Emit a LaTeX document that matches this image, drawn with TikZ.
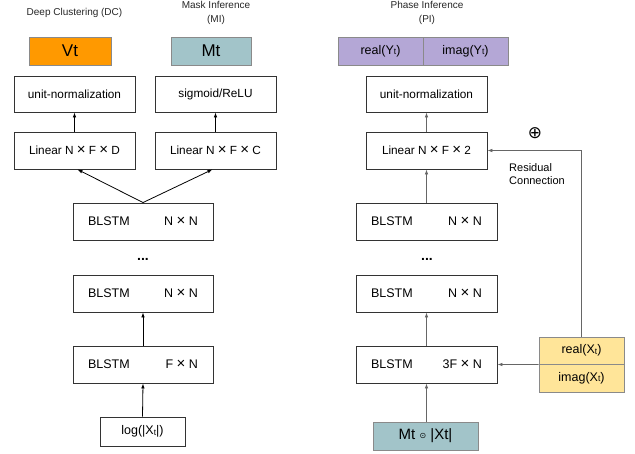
\documentclass[tikz,border=0pt]{standalone}
\usepackage{fontspec}
\setmainfont{Liberation Sans}
\newfontfamily\djv{DejaVu Sans}
\usetikzlibrary{arrows.meta}
\definecolor{dcorange}{HTML}{FF9900}
\definecolor{mteal}{HTML}{A2C4C9}
\definecolor{ppurple}{HTML}{B4A7D6}
\definecolor{pyellow}{HTML}{FFE599}
\definecolor{bord}{HTML}{333333}
\definecolor{cbord}{HTML}{8A8A8A}
\definecolor{garrow}{HTML}{666666}
\newcommand{\smt}{\raisebox{-0.6pt}{\fontsize{8.5}{9}\selectfont t}}
\newcommand{\tms}{{\fontsize{15}{14}\selectfont ×}}
\begin{document}
\begin{tikzpicture}[x=1pt,y=-1pt,
  box/.style={draw=bord, line width=0.9pt, fill=white, inner sep=0pt, font=\fontsize{11.8}{13}\selectfont},
  cbox/.style={draw=cbord, line width=0.9pt, inner sep=0pt},
  arr/.style={-{Latex[length=5pt,width=3.6pt]}, line width=0.8pt},
  garr/.style={arr, draw=garrow},
  hdr/.style={font=\fontsize{10}{13.5}\selectfont, align=center, text=black!85},
  dots/.style={font=\fontsize{14}{14}\selectfont\bfseries}]
\useasboundingbox (0,0) rectangle (635,453);

% headers
\node[hdr] (h1) at (74.5,13) {Deep Clustering (DC)};
\node[hdr] (h2) at (216,13) {Mask Inference\\(MI)};
\node[hdr] (h3) at (427,13) {Phase Inference\\(PI)};

% left column
\node[cbox, fill=dcorange, minimum width=82pt, minimum height=28pt, font=\fontsize{17}{18}\selectfont] (vt) at (70,51) {Vt};
\node[cbox, fill=mteal, minimum width=80pt, minimum height=28pt, font=\fontsize{17}{18}\selectfont] (mt) at (211,51) {Mt};
\node[box, minimum width=121pt, minimum height=36pt] (un1) at (74.5,94) {unit-normalization};
\node[box, minimum width=121pt, minimum height=36pt] (sig) at (215.5,94) {sigmoid/ReLU};
\node[box, minimum width=121pt, minimum height=37pt] (linD) at (74.5,150.5) {Linear N \tms\ F \tms\ D};
\node[box, minimum width=121pt, minimum height=37pt] (linC) at (215.5,150.5) {Linear N \tms\ F \tms\ C};
\node[box, minimum width=140pt, minimum height=37pt, font=\fontsize{12.5}{14}\selectfont] (b1) at (143,221.5) {\makebox[110pt]{BLSTM\hfill N \tms\ N}};
\node[dots] (d1) at (143,259) {...};
\node[box, minimum width=140pt, minimum height=37pt, font=\fontsize{12.5}{14}\selectfont] (b2) at (143,293.5) {\makebox[110pt]{BLSTM\hfill N \tms\ N}};
\node[box, minimum width=140pt, minimum height=37pt, font=\fontsize{12.5}{14}\selectfont] (b3) at (143,364.5) {\makebox[110pt]{BLSTM\hfill F \tms\ N}};
\node[box, minimum width=85pt, minimum height=29pt, font=\fontsize{12.5}{14}\selectfont] (lg) at (142.5,431.5) {log(|X\smt|)};

\draw[arr] (linD.north) -- (un1.south);
\draw[arr] (linC.north) -- (sig.south);
\draw[arr] (b1.north) -- ([xshift=3pt]linD.south);
\draw[arr] (b1.north) -- ([xshift=-3pt]linC.south);
\draw[arr] (b3.north) -- (b2.south);
\draw[arr] (lg.north) -- (b3.south);

% right column
\node[cbox, fill=ppurple, minimum width=85pt, minimum height=28pt, font=\fontsize{12.5}{14}\selectfont] (ry) at (380.5,51) {real(Y\smt)};
\node[cbox, fill=ppurple, minimum width=85pt, minimum height=28pt, font=\fontsize{12.5}{14}\selectfont] (iy) at (465.5,51) {imag(Y\smt)};
\node[box, minimum width=121pt, minimum height=36pt] (un2) at (426.5,94) {unit-normalization};
\node[box, minimum width=121pt, minimum height=37pt] (lin2) at (426.5,150.5) {Linear N \tms\ F \tms\ 2};
\node[font=\djv\fontsize{17}{18}\selectfont, inner sep=0pt] (op) at (535,133) {⊕};
\node[anchor=north west, align=left, font=\fontsize{11}{13}\selectfont, inner sep=0pt] (rc) at (509,163.5) {Residual\\Connection};
\node[box, minimum width=141pt, minimum height=37pt, font=\fontsize{12.5}{14}\selectfont] (r1) at (426.5,221.5) {\makebox[111pt]{BLSTM\hfill N \tms\ N}};
\node[dots] (d2) at (427,259) {...};
\node[box, minimum width=141pt, minimum height=37pt, font=\fontsize{12.5}{14}\selectfont] (r2) at (426.5,293.5) {\makebox[111pt]{BLSTM\hfill N \tms\ N}};
\node[box, minimum width=141pt, minimum height=37pt, font=\fontsize{12.5}{14}\selectfont] (r3) at (426.5,364.5) {\makebox[111pt]{BLSTM\hfill 3F \tms\ N}};
\node[cbox, fill=pyellow, minimum width=85pt, minimum height=27pt, font=\fontsize{12.5}{14}\selectfont] (rx) at (581.5,350.5) {real(X\smt)};
\node[cbox, fill=pyellow, minimum width=85pt, minimum height=28pt, font=\fontsize{12.5}{14}\selectfont] (ix) at (581.5,378) {imag(X\smt)};
\node[cbox, fill=mteal, minimum width=105pt, minimum height=28pt, font=\fontsize{15}{16}\selectfont] (mx) at (425.5,436) {Mt {\djv\fontsize{8}{8}\selectfont\raisebox{1.5pt}{⊙}} |Xt|};

\draw[garr] (un2.south |- lin2.north) -- (un2.south);
\draw[garr] (r1.north) -- (lin2.south);
\draw[garr] (r3.north) -- (r2.south);
\draw[garr] (mx.north -| r3.south) -- (r3.south);
\draw[garr] (rx.south west) -- (r3.east);
\draw[garr, line width=0.7pt] (rx.north) |- (lin2.east);
\end{tikzpicture}
\end{document}
